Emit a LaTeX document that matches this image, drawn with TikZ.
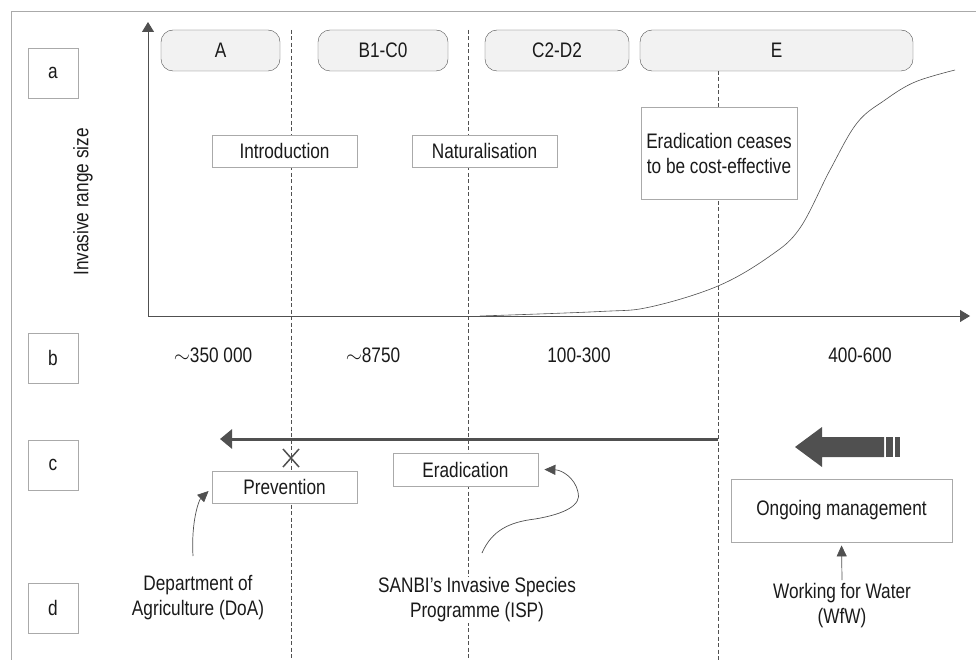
\documentclass[tikz,border=0pt]{standalone}
\usepackage{fontspec}
\setmainfont{Liberation Sans}[FakeStretch=0.82]
\usetikzlibrary{arrows.meta,positioning,calc}
\definecolor{axisgray}{HTML}{505050}
\definecolor{boxgray}{HTML}{AAAAAA}
\definecolor{stagefill}{HTML}{F2F2F2}
\definecolor{txtgray}{HTML}{1A1A1A}
\tikzset{
  every node/.style={font=\fontsize{21}{25}\selectfont,text=txtgray},
  stage/.style={draw=axisgray,fill=stagefill,rounded corners=12pt,minimum height=41pt,inner sep=0pt},
  plainbox/.style={draw=boxgray,fill=white,line width=0.8pt,inner sep=0pt},
  rowbox/.style={plainbox,minimum width=50pt,minimum height=50pt},
  phase/.style={dash pattern=on 4pt off 2.5pt,axisgray,line width=0.6pt},
  axis/.style={axisgray,line width=0.9pt,-{Triangle[length=10pt,width=12pt]}},
  pointer/.style={axisgray,line width=0.7pt,-{Triangle[length=11pt,width=10pt]}}
}
\begin{document}
\begin{tikzpicture}[x=1pt,y=-1pt]
  \useasboundingbox (0,0) rectangle (976,660);
  \draw[boxgray,line width=0.9pt] (11,660) -- (11,11) -- (976,11); % frame, only top and left
  % phase limits
  \draw[phase] (291,30) -- (291,660);
  \draw[phase] (468,30) -- (468,660);
  \draw[phase] (718,71) -- (718,660);
  % axes and curve
  \coordinate (origin) at (148,316);
  \coordinate (ytop) at (148,22);
  \coordinate (xend) at (970,316);
  \draw[axis] (origin) -- (ytop);
  \draw[axis] (origin) -- (xend);
  \draw[axisgray,line width=0.6pt] plot[smooth,tension=0.6] coordinates
    {(480,316) (600,311.5) (650,307) (718,286) (770,256) (800,228) (830,170) (857,123) (885,100) (915,82) (955,70)};
  \node[rotate=90] (ylab) at (83,202) {Invasive range size};
  % row labels
  \node[rowbox] (ra) at (53,73) {a};
  \node[rowbox] (rb) at (53,358) {b};
  \node[rowbox] (rc) at (53,465) {c};
  \node[rowbox] (rd) at (53,608) {d};
  % stages
  \node[stage,minimum width=119pt] (sA) at (220.5,50.5) {A};
  \node[stage,minimum width=130pt] (sB) at (383,50.5) {B1-C0};
  \node[stage,minimum width=144pt] (sC) at (557,50.5) {C2-D2};
  \node[stage,minimum width=273pt] (sE) at (776.5,50.5) {E};
  \node[plainbox,minimum width=145pt,minimum height=32pt] (intro) at (284.5,151) {Introduction};
  \node[plainbox,minimum width=145pt,minimum height=32pt] (natur) at (484.5,151) {Naturalisation};
  \node[plainbox,minimum width=156pt,minimum height=92pt,align=center] (cease) at (719,153)
    {Eradication ceases\\to be cost-effective};
  % numbers of species
  \node (nA) at (213,355) {$\sim$350 000};
  \node (nB) at (373,355) {$\sim$8750};
  \node (nC) at (579,355) {100-300};
  \node (nE) at (860,355) {400-600};
  % management
  \coordinate (stopE) at (718,439);
  \coordinate (prevEnd) at (220,439);
  \draw[axisgray,line width=3pt,-{Triangle[length=12pt,width=19pt]}] (stopE) -- (prevEnd);
  \draw[axisgray,line width=1.5pt] (283,449) -- (299,467) (283,467) -- (299,449);
  \node[plainbox,minimum width=145pt,minimum height=32pt] (prev) at (284.5,487) {Prevention};
  \node[plainbox,minimum width=145pt,minimum height=33pt] (erad) at (465.5,469.5) {Eradication};
  \node[plainbox,minimum width=221pt,minimum height=63pt] (ongo) at (841.5,510.5) {Ongoing management};
  \fill[axisgray] (795,447) -- (822,427) -- (822,437) -- (884,437) -- (884,457) -- (822,457) -- (822,467) -- cycle;
  \fill[axisgray] (886,437) rectangle (893,457);
  \fill[axisgray] (895,437) rectangle (900,457);
  % agencies
  \node[align=center] (doa) at (198,598) {Department of\\Agriculture (DoA)};
  \node[align=center,fill=white,inner sep=1pt] (isp) at (477,600) {SANBI’s Invasive Species\\Programme (ISP)};
  \node[align=center] (wfw) at (842,606) {Working for Water\\(WfW)};
  \draw[pointer] (193,556) .. controls (191,521) and (199,500) .. ($(prev.west)+(-3,4)$);
  \draw[pointer] (482,553) .. controls (492,530) and (510,522) .. (535,519)
    .. controls (565,514) and (582,505) .. (578,492)
    .. controls (575,478) and (562,470) .. ($(erad.east)+(6,0)$);
  \draw[pointer,shorten >=3pt] (wfw.north) -- (ongo.south);
\end{tikzpicture}
\end{document}
